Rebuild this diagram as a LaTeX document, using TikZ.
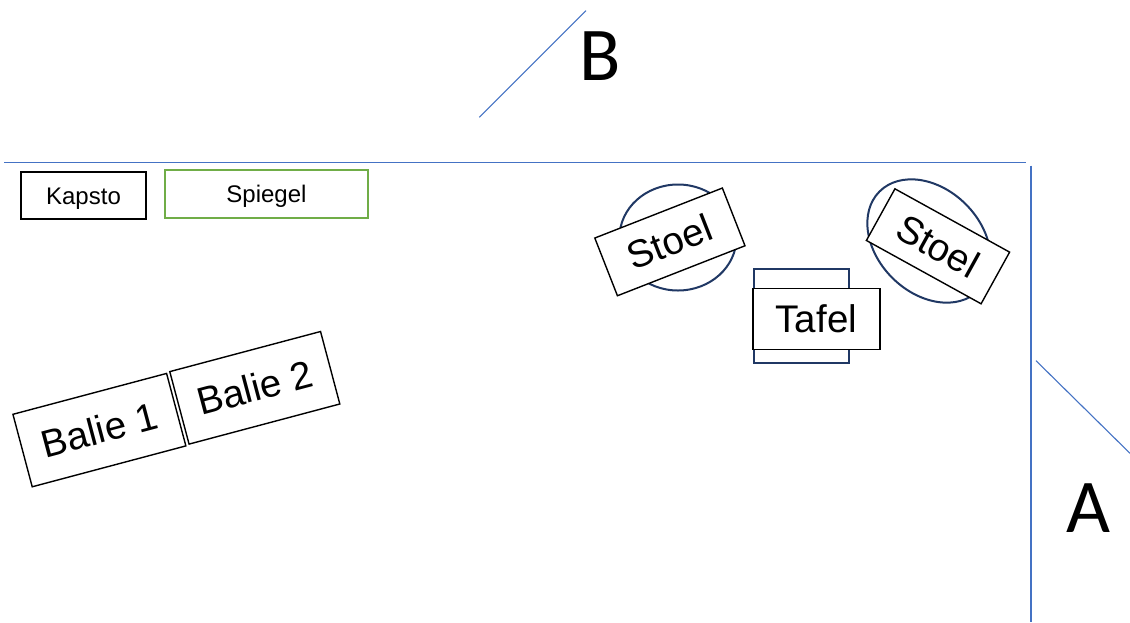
\documentclass[tikz,border=0pt]{standalone}
\usepackage{fontspec}
\setmainfont{Liberation Sans}
\newfontfamily\carlito{Carlito}
\usetikzlibrary{shapes.geometric}
\definecolor{wallblue}{RGB}{68,114,196}
\definecolor{navy}{RGB}{32,56,100}
\definecolor{mirrorgreen}{RGB}{112,173,71}
\begin{document}
\begin{tikzpicture}[x=1pt,y=-1pt,
  wall/.style={draw=wallblue, line width=1.1pt},
  smallbox/.style={draw=black, line width=1.4pt, fill=white, inner sep=0pt, text height=17pt, text depth=0pt, font=\fontsize{24}{26}\selectfont},
  bigbox/.style={draw=black, line width=1.4pt, fill=white, inner sep=0pt, text height=27pt, text depth=0pt, font=\fontsize{38.5}{40}\selectfont},
  seat/.style={ellipse, draw=navy, line width=2pt, inner sep=0pt},
  doorlabel/.style={anchor=base, inner sep=0pt, font=\carlito\fontsize{76}{78}\selectfont}
]
\path[fill=white] (0,0) rectangle (1130,622);
\useasboundingbox (0,0) rectangle (1130,622);

% walls and doors
\coordinate (wl) at (4,162.3);
\coordinate (wr) at (1026,162.3);
\coordinate (vt) at (1031,165.7);
\coordinate (vb) at (1031,622);
\coordinate (b1) at (479.3,117.3);
\coordinate (b2) at (586,10.7);
\coordinate (a1) at (1036,360.7);
\coordinate (a2) at (1130,453.3);
\draw[wall] (wl) -- (wr);
\draw[wall] (vt) -- (vb);
\draw[wall] (b1) -- (b2);
\draw[wall] (a1) -- (a2);
\node[doorlabel] (B) at (600,80) {B};
\node[doorlabel] (A) at (1088.5,532.7) {A};

% top-left furniture
\node[smallbox, minimum width=125pt, minimum height=47pt] (kapsto) at (83.5,195.5) {Kapsto};
\node[smallbox, draw=mirrorgreen, line width=2pt, minimum width=203pt, minimum height=48pt] (spiegel) at (266.5,194) {Spiegel};

% counters
\node[bigbox, minimum width=159pt, minimum height=75pt, rotate=14.9] (balie1) at (99.4,430.1) {Balie 1};
\node[bigbox, minimum width=156pt, minimum height=75pt, rotate=14.9] (balie2) at (254.8,387.8) {Balie 2};

% chairs (ellipses behind)
\node[seat, minimum width=117pt, minimum height=106pt] (seat1) at (678,237.5) {};
\node[seat, minimum width=140pt, minimum height=104pt, rotate=-45] (seat2) at (929,241) {};
\node[bigbox, minimum width=137pt, minimum height=62pt, rotate=21.4] (stoel1) at (669.9,241.9) {Stoel};
\node[bigbox, minimum width=131pt, minimum height=59pt, rotate=-28.9] (stoel2) at (938,246.3) {Stoel};

% table
\node[draw=navy, line width=2pt, fill=white, inner sep=0pt, minimum width=95pt, minimum height=94pt] (tafelback) at (801.7,316.2) {};
\node[bigbox, minimum width=127pt, minimum height=61pt] (tafel) at (816.3,318.7) {Tafel};
\end{tikzpicture}
\end{document}
